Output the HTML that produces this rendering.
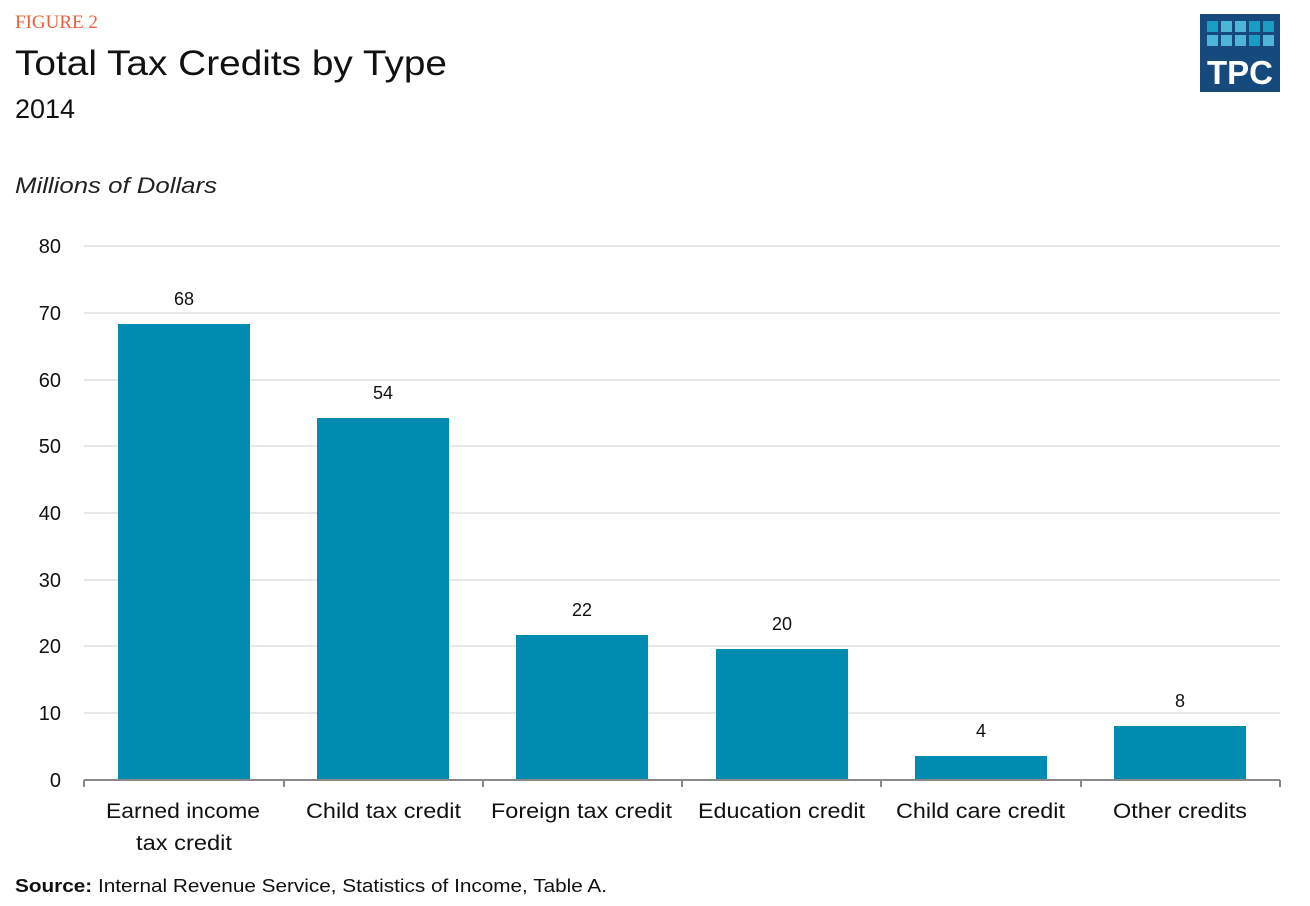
<!DOCTYPE html><html><head><style>body{margin:0;background:#fff}svg{display:block}</style></head><body>
<svg width="1310" height="906" xmlns="http://www.w3.org/2000/svg" font-family="Liberation Sans, sans-serif">
<text x="15" y="28" font-family="Liberation Serif, serif" font-size="19" fill="#e8613e">FIGURE 2</text>
<text x="15" y="75" font-size="35" fill="#111" textLength="432" lengthAdjust="spacingAndGlyphs">Total Tax Credits by Type</text>
<text x="15" y="118" font-size="27" fill="#111">2014</text>
<text x="15" y="193" font-size="22" font-style="italic" fill="#222" textLength="202" lengthAdjust="spacingAndGlyphs">Millions of Dollars</text>
<rect x="1200" y="14" width="80" height="78" fill="#174a7c"/>
<g fill="#1a9cc4"><rect x="1207" y="21" width="11" height="11"/><rect x="1221" y="21" width="11" height="11" fill="#4fb5d6"/><rect x="1235" y="21" width="11" height="11" fill="#4fb5d6"/><rect x="1249" y="21" width="11" height="11"/><rect x="1263" y="21" width="11" height="11"/>
<rect x="1207" y="35" width="11" height="11" fill="#4fb5d6"/><rect x="1221" y="35" width="11" height="11" fill="#4fb5d6"/><rect x="1235" y="35" width="11" height="11" fill="#4fb5d6"/><rect x="1249" y="35" width="11" height="11"/><rect x="1263" y="35" width="11" height="11" fill="#4fb5d6"/></g>
<text x="1240" y="84" font-size="33" font-weight="bold" fill="#fff" text-anchor="middle">TPC</text>
<g stroke="#d9d9d9" stroke-width="1.3">
<line x1="84" x2="1280" y1="246" y2="246"/><line x1="84" x2="1280" y1="313" y2="313"/><line x1="84" x2="1280" y1="380" y2="380"/><line x1="84" x2="1280" y1="446" y2="446"/><line x1="84" x2="1280" y1="513" y2="513"/><line x1="84" x2="1280" y1="580" y2="580"/><line x1="84" x2="1280" y1="646" y2="646"/><line x1="84" x2="1280" y1="713" y2="713"/></g>
<g font-size="20" fill="#111" text-anchor="end">
<text x="61" y="253">80</text><text x="61" y="320">70</text><text x="61" y="387">60</text><text x="61" y="453">50</text><text x="61" y="520">40</text><text x="61" y="587">30</text><text x="61" y="653">20</text><text x="61" y="720">10</text><text x="61" y="787">0</text></g>
<g fill="#008bb0">
<rect x="118" y="324" width="132" height="456"/><rect x="317" y="418" width="132" height="362"/><rect x="516" y="635" width="132" height="145"/><rect x="716" y="649" width="132" height="131"/><rect x="915" y="756" width="132" height="24"/><rect x="1114" y="726" width="132" height="54"/></g>
<g font-size="18" fill="#111" text-anchor="middle">
<text x="184" y="305">68</text><text x="383" y="399">54</text><text x="582" y="616">22</text><text x="782" y="630">20</text><text x="981" y="737">4</text><text x="1180" y="707">8</text></g>
<g stroke="#888" stroke-width="2"><line x1="84" x2="1280" y1="780" y2="780"/>
<line x1="84" x2="84" y1="780" y2="787"/><line x1="284" x2="284" y1="780" y2="787"/><line x1="483" x2="483" y1="780" y2="787"/><line x1="682" x2="682" y1="780" y2="787"/><line x1="881" x2="881" y1="780" y2="787"/><line x1="1081" x2="1081" y1="780" y2="787"/><line x1="1280" x2="1280" y1="780" y2="787"/></g>
<g font-size="21" fill="#111" lengthAdjust="spacingAndGlyphs">
<text x="106" y="818" textLength="154" lengthAdjust="spacingAndGlyphs">Earned income</text><text x="136" y="850" textLength="96" lengthAdjust="spacingAndGlyphs">tax credit</text>
<text x="306" y="818" textLength="155" lengthAdjust="spacingAndGlyphs">Child tax credit</text><text x="491" y="818" textLength="181" lengthAdjust="spacingAndGlyphs">Foreign tax credit</text><text x="698" y="818" textLength="167" lengthAdjust="spacingAndGlyphs">Education credit</text><text x="896" y="818" textLength="169" lengthAdjust="spacingAndGlyphs">Child care credit</text><text x="1113" y="818" textLength="134" lengthAdjust="spacingAndGlyphs">Other credits</text></g>
<text x="15" y="892" font-size="18" fill="#111" textLength="592" lengthAdjust="spacingAndGlyphs"><tspan font-weight="bold">Source:</tspan> Internal Revenue Service, Statistics of Income, Table A.</text>
</svg></body></html>
